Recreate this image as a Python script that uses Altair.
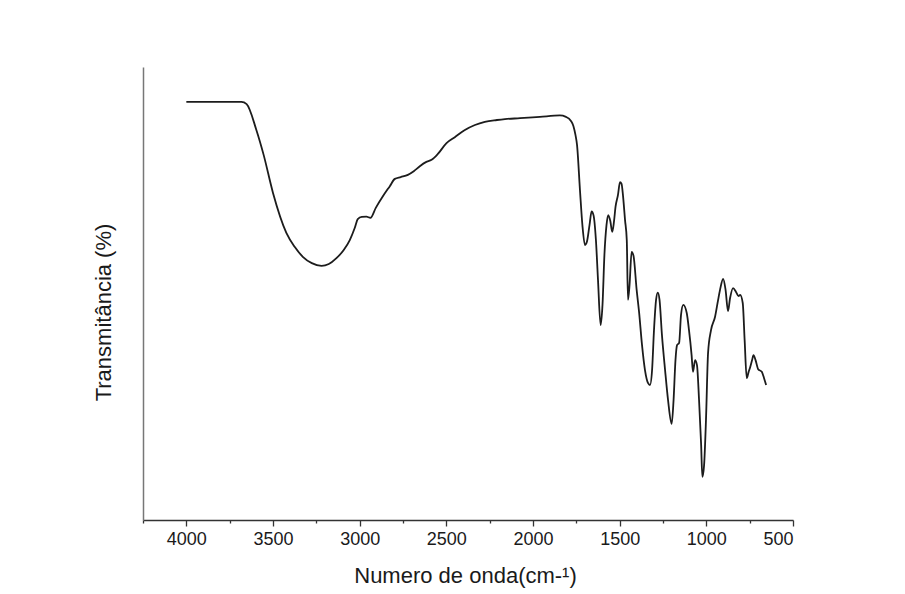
import altair as alt
import pandas as pd

wavenumber = [4000, 3837, 3682, 3652, 3596, 3554, 3500, 3423, 3375, 3328, 3276, 3220, 3178, 3134,
              3092, 3057, 3028, 3011, 2988, 2961, 2938, 2907, 2867, 2826, 2797, 2763, 2722, 2688,
              2653, 2618, 2585, 2549, 2499, 2451, 2393, 2335, 2278, 2208, 2162, 2075, 1960, 1845,
              1810, 1781, 1767, 1755, 1746, 1729, 1715, 1700, 1689, 1674, 1662, 1651, 1637, 1625,
              1610, 1599, 1588, 1576, 1566, 1554, 1543, 1533, 1524, 1510, 1498, 1489, 1481, 1469,
              1459, 1452, 1443, 1431, 1420, 1402, 1388, 1371, 1354, 1336, 1325, 1313, 1302, 1290,
              1280, 1270, 1256, 1238, 1221, 1200, 1189, 1178, 1169, 1157, 1146, 1133, 1113, 1100,
              1085, 1077, 1065, 1054, 1042, 1030, 1023, 1013, 1002, 990, 973, 950, 932, 921, 903,
              889, 875, 863, 846, 828, 814, 805, 790, 779, 767, 756, 748, 736, 728, 716, 701, 680,
              667, 655]
transmittance = [92.3, 92.3, 92.3, 91.8, 86.1, 80.6, 72.2, 63.4, 60.3, 58.1, 56.7, 56.1, 56.5, 57.8,
                 59.6, 61.8, 64.5, 66.4, 66.9, 66.95, 66.7, 68.9, 71.4, 73.7, 75.3, 75.7, 76.2, 77.0,
                 78.1, 79.0, 79.5, 80.8, 83.2, 84.5, 86.1, 87.2, 87.9, 88.3, 88.5, 88.7, 89.0, 89.3,
                 89.0, 88.1, 87.0, 85.0, 82.8, 72.8, 65.1, 60.7, 61.4, 65.1, 68.1, 67.3, 61.8, 53.0,
                 43.0, 47.5, 58.5, 65.1, 67.3, 66.0, 63.6, 65.8, 69.1, 71.7, 74.6, 74.2, 71.7, 66.2,
                 61.8, 48.6, 51.9, 59.2, 58.3, 50.8, 45.9, 38.6, 33.1, 30.2, 29.8, 33.1, 41.9, 48.6,
                 50.2, 48.6, 40.8, 33.1, 26.5, 21.2, 26.5, 35.3, 38.6, 39.1, 45.3, 47.5, 45.7, 41.9,
                 36.4, 32.7, 35.3, 34.2, 26.5, 16.6, 9.5, 12.1, 22.1, 36.9, 41.9, 44.8, 48.6, 50.8, 53.2,
                 50.8, 46.1, 49.0, 51.2, 50.3, 49.4, 49.7, 47.9, 39.7, 31.3, 32.7, 33.6, 35.3, 36.4, 35.3,
                 33.3, 32.7, 31.3, 29.8]

tick_values = [4250, 4000, 3750, 3500, 3250, 3000, 2750, 2500, 2250, 2000, 1750, 1500, 1250, 1000, 750, 500]

df = pd.DataFrame({"wn": wavenumber, "t": transmittance, "i": list(range(len(wavenumber)))})

font = "Liberation Sans"

chart = alt.Chart(df).mark_line(color="#1c1c1c", strokeWidth=1.8, interpolate="monotone").encode(
    x=alt.X("wn:Q",
            scale=alt.Scale(domain=[500, 4250], reverse=True, nice=False, zero=False),
            axis=alt.Axis(title="Numero de onda(cm-¹)", values=tick_values,
                          labelExpr="datum.value % 500 === 0 ? datum.label : ''",
                          format="d", grid=False,
                          tickSize={"condition": {"test": "datum.value % 500 === 0", "value": 6}, "value": 3},
                          tickColor="#333", tickWidth=1.3,
                          domainColor="#333", domainWidth=1.5,
                          labelFont=font, labelFontSize=18, labelColor="#1a1a1a", labelPadding=4,
                          titleFont=font, titleFontSize=22, titleFontWeight="normal", titleColor="#1a1a1a",
                          titleBaseline="alphabetic", titleY=62, titleX=322)),
    y=alt.Y("t:Q",
            scale=alt.Scale(domain=[0, 100], nice=False),
            axis=alt.Axis(title="Transmitância (%)", labels=False, ticks=False, grid=False,
                          domainColor="#777", domainWidth=1.5,
                          titleFont=font, titleFontSize=22, titleFontWeight="normal", titleColor="#1a1a1a",
                          titleBaseline="alphabetic", titleX=-33, titleY=245, titleAngle=-90,
                          titleAlign="center")),
    order="i:Q",
).properties(
    width=650, height=453,
    padding={"left": 143, "top": 67, "right": 112, "bottom": 74},
    autosize=alt.AutoSizeParams(type="none"),
    background="white",
).configure_view(stroke=None)

chart.save("out.html", embed_options={"renderer": "svg", "actions": False})
